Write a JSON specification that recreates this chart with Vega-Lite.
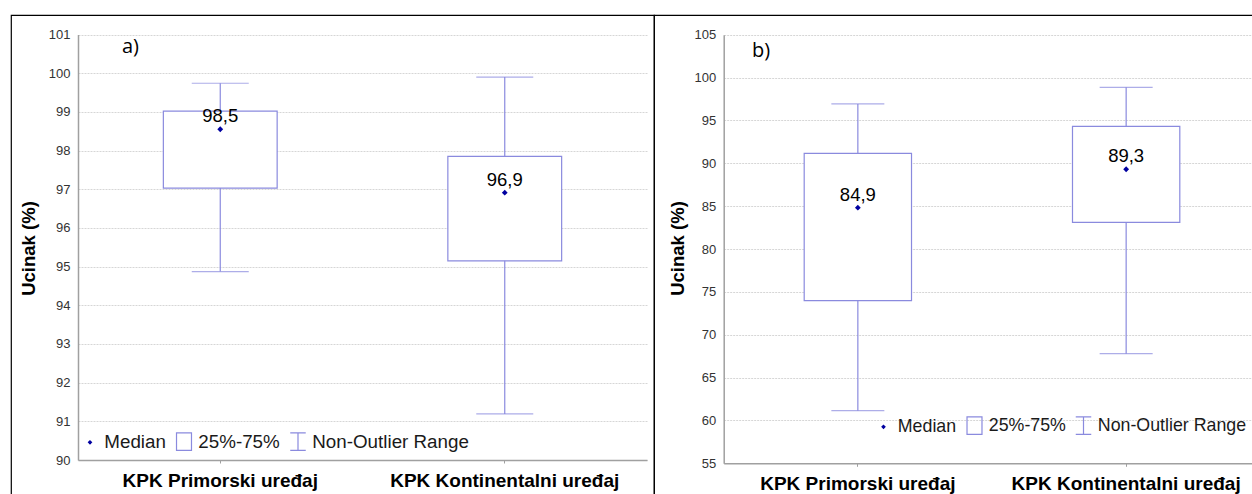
{
  "$schema": "https://vega.github.io/schema/vega-lite/v6.json",
  "background": "white",
  "padding": {"left": 10, "top": 14, "right": 0, "bottom": 0},
  "autosize": {"type": "pad"},
  "bounds": "flush",
  "spacing": 0,
  "datasets": {
    "a": [
      {"device": "KPK Primorski uređaj", "lower": 94.87, "q1": 97.03, "median": 98.55, "q3": 99.02, "upper": 99.74, "label": "98,5"},
      {"device": "KPK Kontinentalni uređaj", "lower": 91.19, "q1": 95.15, "median": 96.91, "q3": 97.85, "upper": 99.9, "label": "96,9"}
    ],
    "b": [
      {"device": "KPK Primorski uređaj", "lower": 61.14, "q1": 73.97, "median": 84.82, "q3": 91.16, "upper": 96.92, "label": "84,9"},
      {"device": "KPK Kontinentalni uređaj", "lower": 67.79, "q1": 83.11, "median": 89.3, "q3": 94.31, "upper": 98.86, "label": "89,3"}
    ],
    "legend": [
      {"item": "Median"},
      {"item": "25%-75%"},
      {"item": "Non-Outlier Range"}
    ]
  },
  "hconcat": [
    {
      "width": 643,
      "height": 520,
      "title": {"text": "a)", "anchor": "start", "frame": "group", "offset": -58, "dx": 111, "fontSize": 20, "fontWeight": "normal", "font": "Open Sans", "color": "black", "baseline": "alphabetic"},
      "data": {"name": "a"},
      "encoding": {
        "x": {"field": "device", "type": "nominal", "sort": null, "title": null,
              "scale": {"type": "band", "domain": ["KPK Primorski uređaj", "KPK Kontinentalni uređaj"], "range": [67, 636], "paddingInner": 0, "paddingOuter": 0},
              "axis": {"offset": -75}}
      },
      "layer": [
        {"mark": {"type": "rule", "color": "#8a8ade", "strokeWidth": 1.2},
         "encoding": {
           "y": {"field": "lower", "type": "quantitative", "title": "Ucinak (%)",
                 "scale": {"domain": [90, 101], "range": [445, 19.5], "nice": false, "zero": false},
                 "axis": {"offset": -67, "values": [90, 91, 92, 93, 94, 95, 96, 97, 98, 99, 100, 101], "titleX": -44, "titleY": 233}},
           "y2": {"field": "upper"}
         }},
        {"mark": {"type": "bar", "fill": "white", "stroke": "#8a8ade", "strokeWidth": 1.2, "width": {"band": 0.4}},
         "encoding": {"y": {"field": "q1", "type": "quantitative", "title": "Ucinak (%)"}, "y2": {"field": "q3"}}},
        {"mark": {"type": "tick", "color": "#8a8ade", "size": 57, "thickness": 1.2},
         "encoding": {"y": {"field": "lower", "type": "quantitative", "title": "Ucinak (%)"}}},
        {"mark": {"type": "tick", "color": "#8a8ade", "size": 57, "thickness": 1.2},
         "encoding": {"y": {"field": "upper", "type": "quantitative", "title": "Ucinak (%)"}}},
        {"mark": {"type": "point", "shape": "diamond", "size": 34, "filled": true, "color": "#0000a0", "opacity": 1},
         "encoding": {"y": {"field": "median", "type": "quantitative", "title": "Ucinak (%)"}}},
        {"mark": {"type": "text", "dy": -7, "baseline": "alphabetic", "fontSize": 18.5, "font": "Liberation Sans", "color": "black"},
         "encoding": {"y": {"field": "median", "type": "quantitative", "title": "Ucinak (%)"}, "text": {"field": "label"}}},
        {"data": {"name": "legend"},
         "mark": {"type": "point", "opacity": 0},
         "encoding": {
           "x": {"value": 300},
           "shape": {"field": "item", "type": "nominal", "title": null,
                     "scale": {"domain": ["Median", "25%-75%", "Non-Outlier Range"], "range": ["M0,-0.17L0.17,0L0,0.17L-0.17,0Z", "M-0.85,-1H0.85V1H-0.85Z", "M-0.88,-1H0.88M0,-1V1M-0.88,1H0.88"]},
                     "legend": {"legendX": 69.5, "legendY": 417, "labelFontSize": 18.8}},
           "fill": {"field": "item", "type": "nominal", "title": null,
                    "scale": {"domain": ["Median", "25%-75%", "Non-Outlier Range"], "range": ["#0000a0", "transparent", "transparent"]},
                    "legend": {"legendX": 69.5, "legendY": 417, "labelFontSize": 18.8}},
           "stroke": {"field": "item", "type": "nominal", "title": null,
                      "scale": {"domain": ["Median", "25%-75%", "Non-Outlier Range"], "range": ["#0000a0", "#8a8ade", "#8a8ade"]},
                      "legend": {"legendX": 69.5, "legendY": 417, "labelFontSize": 18.8}}
         }}
      ]
    },
    {
      "width": 620,
      "height": 520,
      "title": {"text": "b)", "anchor": "start", "frame": "group", "offset": -62, "dx": 98, "fontSize": 20, "fontWeight": "normal", "font": "Open Sans", "color": "black", "baseline": "alphabetic"},
      "data": {"name": "b"},
      "encoding": {
        "x": {"field": "device", "type": "nominal", "sort": null, "title": null,
              "scale": {"type": "band", "domain": ["KPK Primorski uređaj", "KPK Kontinentalni uređaj"], "range": [69.7, 606.3], "paddingInner": 0, "paddingOuter": 0},
              "axis": {"offset": -71.7}}
      },
      "layer": [
        {"mark": {"type": "rule", "color": "#8a8ade", "strokeWidth": 1.2},
         "encoding": {
           "y": {"field": "lower", "type": "quantitative", "title": "Ucinak (%)",
                 "scale": {"domain": [55, 105], "range": [448.3, 19.7], "nice": false, "zero": false},
                 "axis": {"offset": -69.7, "values": [55, 60, 65, 70, 75, 80, 85, 90, 95, 100, 105], "titleX": -40, "titleY": 233}},
           "y2": {"field": "upper"}
         }},
        {"mark": {"type": "bar", "fill": "white", "stroke": "#8a8ade", "strokeWidth": 1.2, "width": {"band": 0.4}},
         "encoding": {"y": {"field": "q1", "type": "quantitative", "title": "Ucinak (%)"}, "y2": {"field": "q3"}}},
        {"mark": {"type": "tick", "color": "#8a8ade", "size": 53, "thickness": 1.2},
         "encoding": {"y": {"field": "lower", "type": "quantitative", "title": "Ucinak (%)"}}},
        {"mark": {"type": "tick", "color": "#8a8ade", "size": 53, "thickness": 1.2},
         "encoding": {"y": {"field": "upper", "type": "quantitative", "title": "Ucinak (%)"}}},
        {"mark": {"type": "point", "shape": "diamond", "size": 34, "filled": true, "color": "#0000a0", "opacity": 1},
         "encoding": {"y": {"field": "median", "type": "quantitative", "title": "Ucinak (%)"}}},
        {"mark": {"type": "text", "dy": -7, "baseline": "alphabetic", "fontSize": 18.5, "font": "Liberation Sans", "color": "black"},
         "encoding": {"y": {"field": "median", "type": "quantitative", "title": "Ucinak (%)"}, "text": {"field": "label"}}},
        {"data": {"name": "legend"},
         "mark": {"type": "point", "opacity": 0},
         "encoding": {
           "x": {"value": 300},
           "shape": {"field": "item", "type": "nominal", "title": null,
                     "scale": {"domain": ["Median", "25%-75%", "Non-Outlier Range"], "range": ["M0,-0.17L0.17,0L0,0.17L-0.17,0Z", "M-0.85,-1H0.85V1H-0.85Z", "M-0.88,-1H0.88M0,-1V1M-0.88,1H0.88"]},
                     "legend": {"legendX": 220, "legendY": 401, "labelFontSize": 17.8}},
           "fill": {"field": "item", "type": "nominal", "title": null,
                    "scale": {"domain": ["Median", "25%-75%", "Non-Outlier Range"], "range": ["#0000a0", "transparent", "transparent"]},
                    "legend": {"legendX": 220, "legendY": 401, "labelFontSize": 17.8}},
           "stroke": {"field": "item", "type": "nominal", "title": null,
                      "scale": {"domain": ["Median", "25%-75%", "Non-Outlier Range"], "range": ["#0000a0", "#8a8ade", "#8a8ade"]},
                      "legend": {"legendX": 220, "legendY": 401, "labelFontSize": 17.8}}
         }}
      ]
    }
  ],
  "resolve": {"scale": {"shape": "independent", "fill": "independent", "stroke": "independent"}, "legend": {"shape": "independent", "fill": "independent", "stroke": "independent"}},
  "config": {
    "view": {"stroke": "black", "strokeWidth": 1.2},
    "axis": {"domainColor": "#a0a0a0", "domainWidth": 1.5, "labelFont": "Liberation Sans", "titleFont": "Liberation Sans", "labelColor": "#333333", "titleColor": "black"},
    "axisY": {"grid": true, "gridColor": "#d6d6d6", "gridDash": [2, 1], "ticks": true, "tickSize": 0, "labelPadding": 8, "labelFontSize": 13, "titleFontSize": 18.5, "titleFontWeight": "bold", "titleBaseline": "alphabetic", "titleAngle": -90},
    "axisX": {"grid": false, "ticks": true, "tickSize": 3, "tickColor": "#a0a0a0", "labelPadding": 23, "labelBaseline": "alphabetic", "labelFontSize": 19, "labelFontWeight": "bold", "labelColor": "black", "labelAngle": 0, "labelLimit": 400},
    "legend": {"orient": "none", "direction": "horizontal", "padding": 0, "labelFont": "Liberation Sans", "labelFontSize": 18, "labelColor": "#1a1a1a", "symbolSize": 310, "symbolStrokeWidth": 1.2, "labelOffset": 4.8, "columnPadding": 7, "symbolOpacity": 1, "labelLimit": 400}
  }
}
